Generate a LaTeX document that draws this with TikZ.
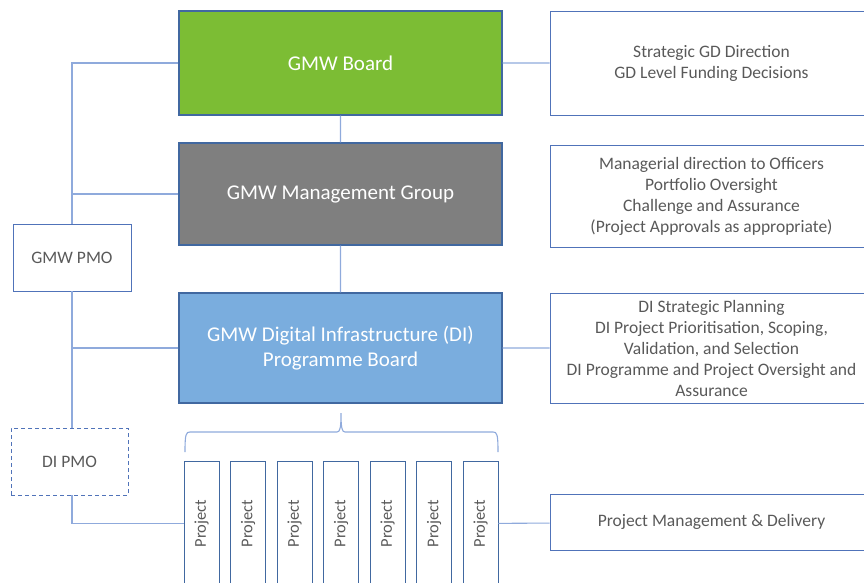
\documentclass[tikz,border=0pt]{standalone}
\usepackage{fontspec}
\setmainfont{Carlito}
\definecolor{boardgreen}{RGB}{124,189,52}
\definecolor{groupgray}{RGB}{127,127,127}
\definecolor{progblue}{RGB}{122,173,222}
\definecolor{edgeblue}{RGB}{65,104,160}
\definecolor{boxblue}{RGB}{80,115,185}
\definecolor{linkblue}{RGB}{143,170,220}
\definecolor{textgray}{RGB}{89,89,89}

\begin{document}
\begin{tikzpicture}[x=1pt,y=-1pt]
\tikzstyle{every node}=[draw, shape=rectangle, align=center, inner sep=2pt]
\tikzstyle{level}=[draw=edgeblue, line width=1.2pt, text=white, minimum width=323pt, font=\fontsize{21}{25}\selectfont]
\tikzstyle{remit}=[draw=boxblue, line width=0.9pt, text=textgray, minimum width=323pt, font=\fontsize{17.5}{21}\selectfont]
\tikzstyle{pmo}=[draw=boxblue, line width=0.9pt, text=textgray, minimum width=118pt, minimum height=67pt, font=\fontsize{17.5}{21}\selectfont]
\tikzstyle{proj}=[draw=edgeblue, line width=0.9pt, text=textgray, minimum width=35pt, minimum height=125pt, inner sep=0pt, font=\fontsize{16.5}{20}\selectfont]
\tikzstyle{link}=[draw=linkblue, line width=1.1pt]
\useasboundingbox (0,0) rectangle (864,583);
\clip (0,0) rectangle (864,583);
% governance levels
\node at (340.5,63) [level, fill=boardgreen, minimum height=104pt] (board) {GMW Board};
\node at (340.5,194) [level, fill=groupgray, minimum height=102pt] (group) {GMW Management Group};
\node at (340.5,348) [level, fill=progblue, minimum height=110pt] (prog) {GMW Digital Infrastructure (DI)\\Programme Board};
% PMOs
\node at (72,257.5) [pmo] (gpmo) {GMW PMO};
\node at (69.5,461.5) [pmo, dash pattern=on 4pt off 3pt, minimum width=117pt] (dpmo) {DI PMO};
% remits
\node at (711.5,63) [remit, minimum height=104pt] (r1) {Strategic GD Direction\\GD Level Funding Decisions};
\node at (711.5,196) [remit, minimum height=102pt] (r2) {Managerial direction to Officers\\Portfolio Oversight\\Challenge and Assurance\\(Project Approvals as appropriate)};
\node at (711.5,348) [remit, minimum height=110pt] (r3) {DI Strategic Planning\\DI Project Prioritisation, Scoping,\\Validation, and Selection\\DI Programme and Project Oversight and\\Assurance};
\node at (711.5,522) [remit, minimum height=56pt] (r4) {Project Management \& Delivery};
% projects
\foreach \i in {1,...,7}
  \node at ({201.5+46.5*(\i-1)},523.5) [proj] (p\i) {\rotatebox{90}{Project}};
% links
\draw[link]
(board) -- (group)  (group) -- (prog)
(board) -- (r1)  (prog) -- (r3)  (p7) -- (r4);
\draw[link] (board.west) -| (gpmo.north);
\draw[link] (group.west) -| (gpmo.north);
\draw[link] (gpmo.south) -- (gpmo.south |- dpmo.north);
\draw[link] (prog.west) -- (prog.west -| gpmo.south);
\draw[link] (dpmo.south -| gpmo.south) |- (p1.west);
% brace over projects
\draw[link]
(185,452) .. controls (185,434) and (186,432) .. (190,432) -- (337,432)
.. controls (340,432) and (341,428) .. (341,413)
.. controls (341,428) and (342,432) .. (345,432) -- (493,432)
.. controls (497,432) and (498,434) .. (498,452);
\end{tikzpicture}
\end{document}
